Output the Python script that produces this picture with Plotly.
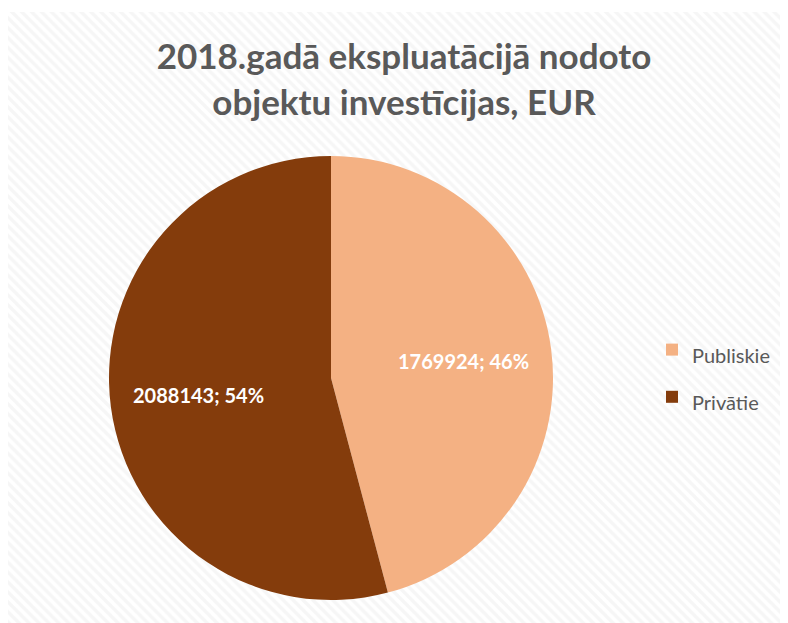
import math
import plotly.graph_objects as go

categories = ["Publiskie", "Privātie"]
values = [1769924, 2088143]
colors = ["#F4B183", "#843C0C"]
title_text = "2018.gadā ekspluatācijā nodoto<br>objektu investīcijas, EUR"

# page is shown with an 8px body margin, so the figure is 780x615
W, H = 780, 615

fig = go.Figure()

# patterned chart-area background
fig.add_trace(go.Scatter(
    x=[0, W, W, 0, 0], y=[4, 4, H, H, 4],
    mode="lines", fill="toself",
    line=dict(width=0, color="rgba(0,0,0,0)"),
    fillcolor="white",
    fillpattern=dict(shape="\\", size=7, solidity=0.5, fgcolor="#eeeeee", bgcolor="#ffffff"),
    showlegend=False, hoverinfo="skip",
))

cx, cy, r = 323, 370, 222
legend_labels = ["<span style='font-size:20px'>%s</span>" % c for c in categories]
fig.add_trace(go.Pie(
    labels=legend_labels, values=values, sort=False,
    direction="clockwise", rotation=0,
    marker=dict(colors=colors, line=dict(width=0)),
    textinfo="none",
    domain=dict(x=[(cx - r) / W, (cx + r) / W], y=[(H - cy - r) / H, (H - cy + r) / H]),
    hovertext=categories, hoverinfo="text+value+percent",
))

# data labels at slice mid-angles
total = sum(values)
start = 0.0
for v in values:
    frac = v / total
    mid = (start + frac / 2) * 2 * math.pi
    start += frac
    px = cx + 0.6 * r * math.sin(mid)
    py = cy - 0.6 * r * math.cos(mid)
    fig.add_annotation(
        x=px / W, y=1 - py / H, xref="paper", yref="paper",
        text="%d; %d%%" % (v, round(frac * 100)), showarrow=False,
        font=dict(family="Lato", size=20, color="white", weight="bold"),
        xanchor="center", yanchor="middle",
    )

fig.update_layout(
    width=W, height=H,
    margin=dict(l=0, r=0, t=0, b=0),
    paper_bgcolor="white", plot_bgcolor="rgba(0,0,0,0)",
    xaxis=dict(range=[0, W], visible=False, fixedrange=True),
    yaxis=dict(range=[H, 0], visible=False, fixedrange=True),
    title=dict(text=title_text, x=396 / W, xanchor="center", y=1 - 61 / H, yanchor="middle",
               font=dict(family="Lato", size=35, color="#595959", weight="bold")),
    legend=dict(x=644 / W, y=1 - 313 / H, xanchor="left", yanchor="top",
                font=dict(family="Lato", size=34, color="#595959"),
                bgcolor="rgba(0,0,0,0)", tracegroupgap=0, itemwidth=30),
    showlegend=True,
)

fig.write_html("out.html")
